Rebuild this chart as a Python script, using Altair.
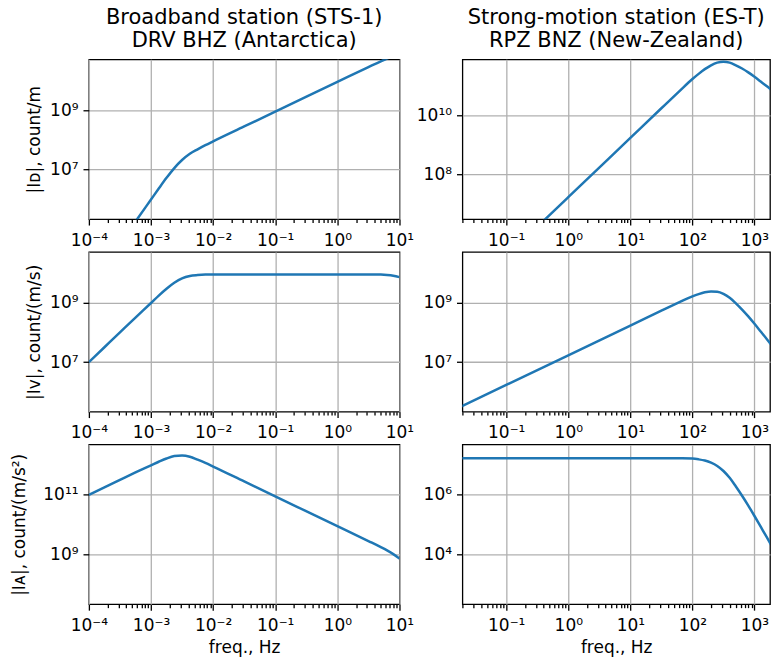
import altair as alt
import pandas as pd

# ---------------- data (log10 values) ----------------
# Left column: broadband STS-1, DRV BHZ
bb_logf = [-4.0, -3.75, -3.5, -3.25, -3.0, -2.875, -2.75, -2.625, -2.5, -2.375,
           -2.25, -2.125, -2.0, -1.5, -1.0, 0.0, 0.5, 0.7, 0.8, 0.9, 1.0]
bb_disp = [3.00, 3.75, 4.50, 5.25, 5.99, 6.36, 6.72, 7.05, 7.32, 7.53,
           7.68, 7.82, 7.95, 8.45, 8.95, 9.95, 10.45, 10.645, 10.735, 10.81, 10.86]
bb_vel = [7.00, 7.50, 8.00, 8.50, 8.99, 9.24, 9.47, 9.67, 9.82, 9.90,
          9.93, 9.945, 9.948, 9.95, 9.95, 9.95, 9.95, 9.945, 9.935, 9.91, 9.86]
bb_acc = [11.00, 11.25, 11.50, 11.75, 11.99, 12.11, 12.22, 12.30, 12.32, 12.28,
          12.18, 12.07, 11.95, 11.45, 10.95, 9.95, 9.45, 9.245, 9.135, 9.01, 8.86]

# Right column: strong-motion ES-T, RPZ BNZ
sm_logf = [-1.75, -1.0, 0.0, 1.0, 1.5, 1.8, 2.0, 2.1, 2.2, 2.3,
           2.4, 2.5, 2.6, 2.7, 2.8, 2.9, 3.0, 3.1, 3.2, 3.3]
sm_disp = [3.73, 5.23, 7.23, 9.23, 10.23, 10.825, 11.215, 11.39, 11.55, 11.68,
           11.77, 11.80, 11.77, 11.68, 11.57, 11.44, 11.29, 11.13, 10.97, 10.80]
sm_vel = [5.48, 6.23, 7.23, 8.23, 8.73, 9.025, 9.215, 9.29, 9.35, 9.38,
          9.37, 9.30, 9.17, 8.98, 8.77, 8.54, 8.29, 8.03, 7.77, 7.50]
sm_acc = [7.23, 7.23, 7.23, 7.23, 7.23, 7.225, 7.215, 7.19, 7.15, 7.08,
          6.97, 6.80, 6.57, 6.28, 5.97, 5.64, 5.29, 4.93, 4.57, 4.20]

col_titles = [["Broadband station (STS-1)", "DRV BHZ (Antarctica)"],
              ["Strong-motion station (ES-T)", "RPZ BNZ (New-Zealand)"]]
y_titles = ["|Iᴅ|, count/m", "|Iᴠ|, count/(m/s)", "|Iᴀ|, count/(m/s²)"]
x_title = "freq., Hz"

# axis ranges (log10)
bb_xrange = [-4.0, 1.0]
sm_xrange = [-1.706, 3.25]
y_ranges = [([5.33, 10.71], [6.49, 11.88]),
            ([5.33, 10.71], [5.33, 10.71]),
            ([7.33, 12.69], [2.33, 7.69])]
y_major = [([7, 9], [8, 10]), ([7, 9], [7, 9]), ([9, 11], [4, 6])]
bb_xmajor = [-4, -3, -2, -1, 0, 1]
sm_xmajor = [-1, 0, 1, 2, 3]

SUP = str.maketrans("-0123456789", "⁻⁰¹²³⁴⁵⁶⁷⁸⁹")
FONT = "DejaVu Sans"
BLUE = "#1f77b4"


def sup_expr(exps):
    parts = [f"round(log(datum.value)/LN10) == {e} ? '10{str(e).translate(SUP)}'"
             for e in exps]
    return " : ".join(parts) + " : ''"


def minor_values(lo, hi):
    vals = []
    for e in range(int(lo) - 1, int(hi) + 2):
        for k in range(2, 10):
            v = k * 10 ** e
            if 10 ** lo <= v <= 10 ** hi:
                vals.append(v)
    return vals


def panel(logf, logv, xr, yr, xmaj, ymaj, ytitle, width, title=None, xtitle=None, tpad=6):
    df = pd.DataFrame({"f": [10 ** x for x in logf], "v": [10 ** y for y in logv]})
    xs = alt.Scale(type="log", domain=[10 ** xr[0], 10 ** xr[1]], nice=False)
    ys = alt.Scale(type="log", domain=[10 ** yr[0], 10 ** yr[1]], nice=False)
    yax = alt.Axis(values=[10 ** e for e in ymaj], labelExpr=sup_expr(ymaj), grid=True,
                   titlePadding=tpad)
    line = alt.Chart(df).mark_line(
        clip=True, color=BLUE, strokeWidth=2.5, interpolate="monotone"
    ).encode(
        x=alt.X("f:Q", scale=xs, title=xtitle,
                axis=alt.Axis(values=[10 ** e for e in xmaj], labelExpr=sup_expr(xmaj),
                              orient="bottom", grid=True, labelFlush=False)),
        y=alt.Y("v:Q", scale=ys, title=ytitle, axis=yax),
    )
    minor = alt.Chart(df).mark_point(opacity=0, clip=True).encode(
        x=alt.X("f:Q", scale=xs, title=None,
                axis=alt.Axis(values=minor_values(xr[0], xr[1]), labels=False, grid=False,
                              tickSize=3.4, orient="bottom")),
        y=alt.Y("v:Q", scale=ys, title=ytitle, axis=yax),
    )
    ch = alt.layer(line, minor).resolve_axis(x="independent").properties(width=width, height=160)
    if title is not None:
        ch = ch.properties(title=alt.TitleParams(title, fontSize=21, fontWeight="normal",
                                                 font=FONT, color="black", anchor="middle",
                                                 lineHeight=23, offset=8))
    return ch


rows = []
bb_series = [bb_disp, bb_vel, bb_acc]
sm_series = [sm_disp, sm_vel, sm_acc]
for i in range(3):
    xt = x_title if i == 2 else None
    left = panel(bb_logf, bb_series[i], bb_xrange, y_ranges[i][0], bb_xmajor, y_major[i][0],
                 y_titles[i], 311, title=col_titles[0] if i == 0 else None, xtitle=xt,
                 tpad=14 if i == 2 else 6)
    right = panel(sm_logf, sm_series[i], sm_xrange, y_ranges[i][1], sm_xmajor, y_major[i][1],
                  None, 308, title=col_titles[1] if i == 0 else None, xtitle=xt)
    rows += [left, right]

chart = alt.concat(*rows, columns=2, spacing={"row": 32.8, "column": 63},
                   bounds="flush", align="each").properties(
    padding={"left": 10, "top": 6, "right": 0, "bottom": 2}
).configure(font=FONT).configure_view(
    stroke="black", strokeWidth=1.3
).configure_axis(
    labelFont=FONT, labelFontSize=17, labelColor="black",
    titleFont=FONT, titleFontSize=17, titleFontWeight="normal", titleColor="black",
    tickColor="black", tickWidth=1.3, tickSize=5.9, domain=False,
    gridColor="#b0b0b0", gridWidth=1.3, labelPadding=6, titlePadding=6
).configure_axisX(labelPadding=7).configure_axisY(labelPadding=5)

chart.save("out.html", embed_options={"renderer": "svg", "actions": False})
